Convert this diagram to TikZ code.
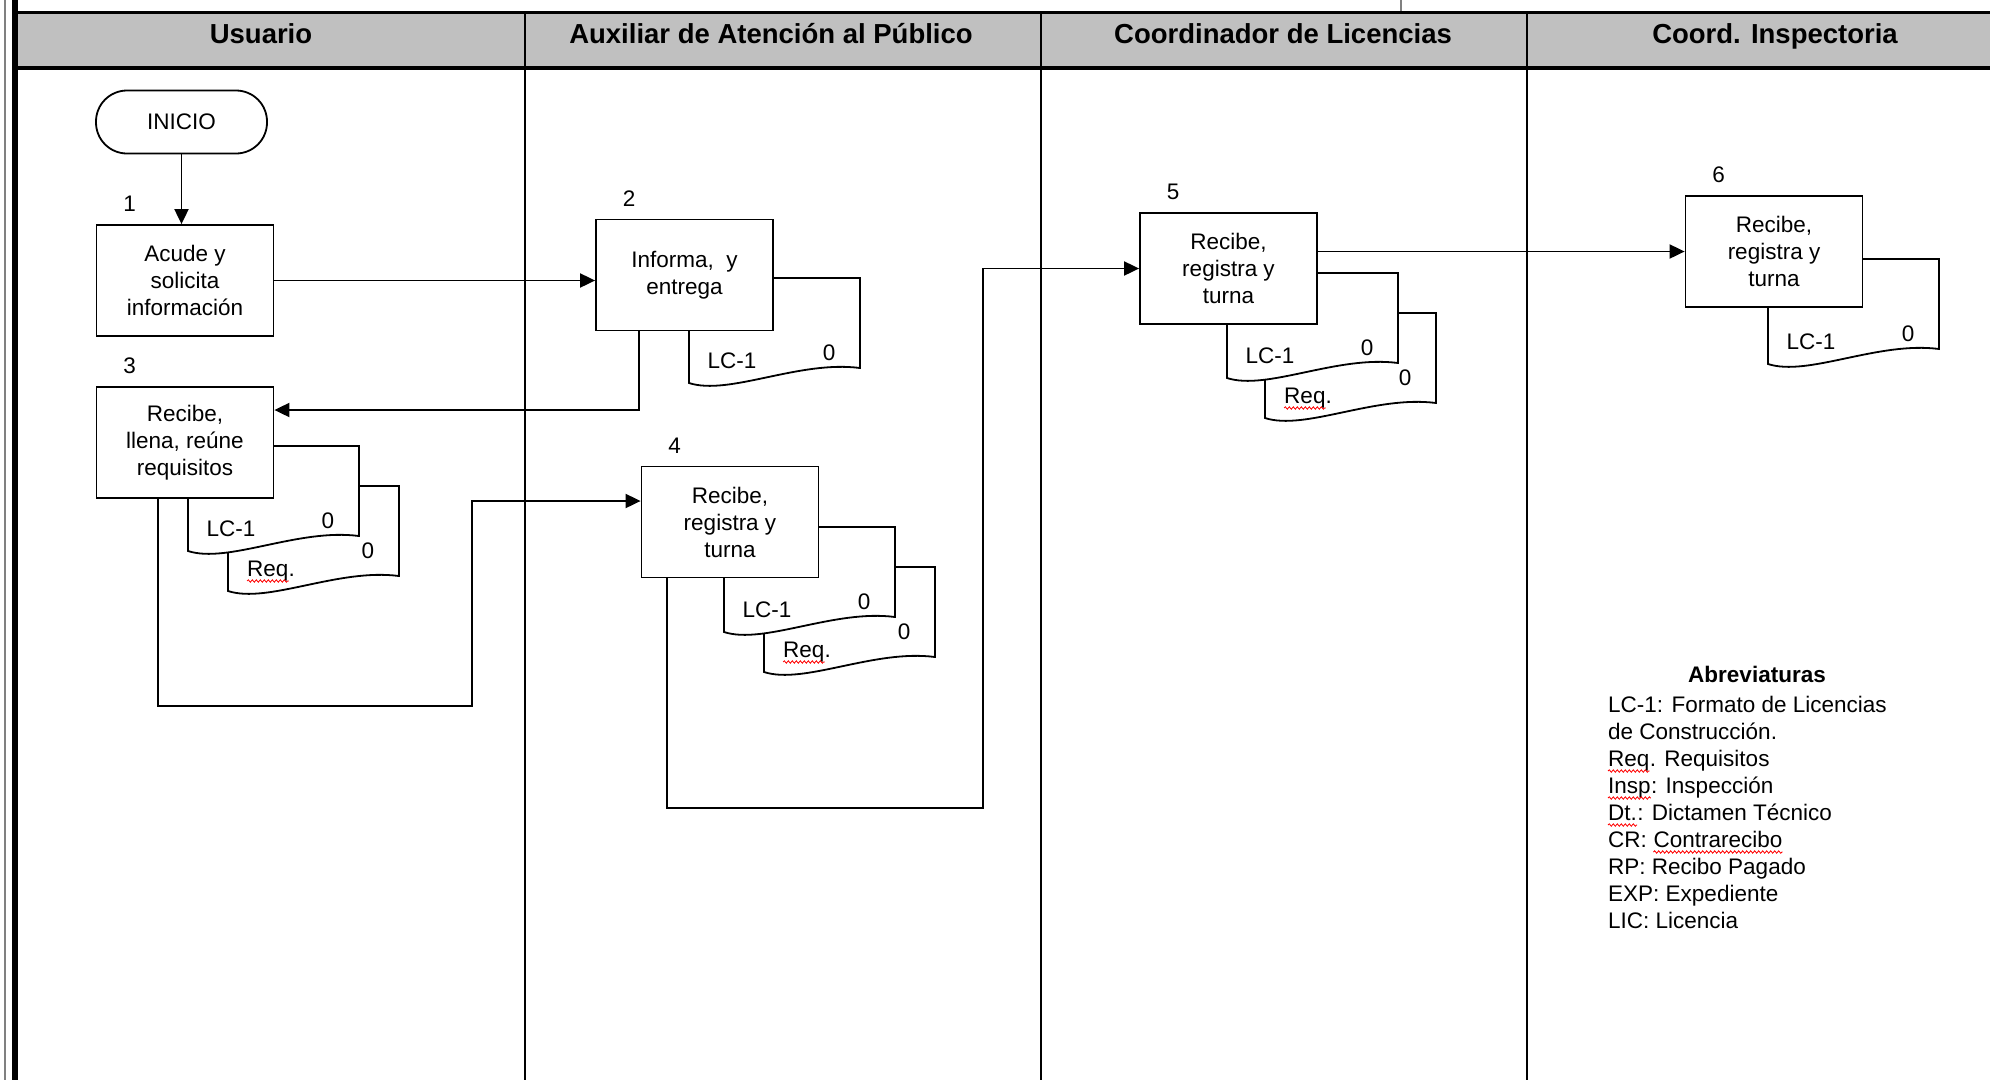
\documentclass[tikz,border=0pt]{standalone}
\usepackage{fontspec}
\setmainfont{Liberation Sans}
\usetikzlibrary{arrows.meta,positioning,decorations.pathmorphing}
\definecolor{cabecera}{HTML}{C0C0C0}
% documento: nombre, x, y, texto, altura del cero
\newcommand{\docu}[5]{%
  \begin{scope}[shift={(#2,#3)}]
    \draw[docline] (0,0) -- (171,0) -- (171,90) .. controls (110,82) and (40,118) .. (0,105) -- cycle;
    \node[lbl,anchor=base] (#1-txt) at (43,90) {#4};
    \node[lbl,anchor=base] (#1-cero) at (140,#5) {0};
  \end{scope}}
\begin{document}
\begin{tikzpicture}[x=1pt,y=-1pt,
	every node/.style={font=\fontsize{22.5}{27}\selectfont},
	caja/.style={draw,line width=1.8pt,fill=white,minimum width=177pt,minimum height=111pt,align=center,inner sep=0pt},
	inicio/.style={draw,line width=1.8pt,fill=white,rounded corners=31pt,minimum width=171pt,minimum height=63pt},
	docline/.style={line width=1.8pt,fill=white},
	lbl/.style={inner sep=0pt},
	num/.style={inner sep=0pt},
	abr/.style={inner sep=0pt,anchor=base west},
	flujo/.style={line width=1.9pt,-{Triangle[length=15pt,width=14pt]}},
	carril/.style={line width=2.4pt},
	ortog/.style={red,line width=0.8pt,decorate,decoration={snake,amplitude=1.2pt,segment length=4pt}},
	hdr/.style={font=\fontsize{27.5}{33}\selectfont\bfseries,inner sep=0pt}]
\useasboundingbox (0,0) rectangle (1990,1080);
% carriles
\fill[cabecera] (15,12) rectangle (1990,68);
\draw[line width=3pt] (15,12) -- (1990,12);
\draw[line width=3.5pt] (15,68) -- (1990,68);
\draw[gray,line width=1.5pt] (1401,0) -- (1401,11);
\draw[gray,line width=1.5pt] (5,0) -- (5,1080);
\draw[line width=6pt] (15,0) -- (15,1080);
\foreach \x in {525,1041,1527}
	\draw[carril] (\x,12) -- (\x,1080);
\node[hdr,anchor=base] (h1) at (261,43) {Usuario};
\node[hdr,anchor=base] (h2) at (771,43) {Auxiliar de Atención al Público};
\node[hdr,anchor=base] (h3) at (1283,43) {Coordinador de Licencias};
\node[hdr,anchor=base] (h4) at (1775,43) {Coord. Inspectoria};
% documentos
\docu{d2}{689}{278}{LC-1}{82}
\docu{d3r}{228}{486}{Req.}{72}
\docu{d3}{188}{446}{LC-1}{82}
\docu{d4r}{764}{567}{Req.}{72}
\docu{d4}{724}{527}{LC-1}{82}
\docu{d5r}{1265}{313}{Req.}{72}
\docu{d5}{1227}{273}{LC-1}{82}
\docu{d6}{1768}{259}{LC-1}{82}
\foreach \d in {d3r,d4r,d5r}
	\draw[ortog] ([yshift=-5pt]\d-txt.base west) -- ([xshift=-6pt,yshift=-5pt]\d-txt.base east);
% pasos
\node[inicio] (ini) at (181.5,122) {INICIO};
\node[caja] (b1) at (185,280.5) {Acude y\\solicita\\información};
\node[caja] (b2) at (684.5,275) {Informa,~ y\\entrega};
\node[caja] (b3) at (185,442.5) {Recibe,\\llena, reúne\\requisitos};
\node[caja] (b4) at (730,522) {Recibe,\\registra y\\turna};
\node[caja] (b5) at (1228.5,268.5) {Recibe,\\registra y\\turna};
\node[caja] (b6) at (1774,251.5) {Recibe,\\registra y\\turna};
\node[num] (n1) at ([shift={(34,-20)}]b1.north west) {1};
\node[num] (n2) at ([shift={(34,-20)}]b2.north west) {2};
\node[num] (n3) at ([shift={(34,-20)}]b3.north west) {3};
\node[num] (n4) at ([shift={(34,-20)}]b4.north west) {4};
\node[num] (n5) at ([shift={(34,-20)}]b5.north west) {5};
\node[num] (n6) at ([shift={(34,-20)}]b6.north west) {6};
% flechas
\coordinate (c23) at (639,410);
\coordinate (c34a) at (158,706);
\coordinate (c34b) at (472,501);
\coordinate (c45a) at (667,808);
\coordinate (c45b) at (983,268.5);
\draw[flujo] (ini.south) -- (ini.south |- b1.north);
\draw[flujo] (b1.east) -- (b1.east -| b2.west);
\draw[flujo] (b2.south -| c23) |- (b3.east |- c23);
\draw[flujo] (b3.south -| c34a) -- (c34a) -| (c34b) -- (b4.west |- c34b);
\draw[flujo] (b4.south -| c45a) -- (c45a) -| (c45b) -- (b5.west);
\draw[flujo] (b5.east |- b6.west) -- (b6.west);
% abreviaturas
\node[font=\fontsize{22.5}{27}\selectfont\bfseries,anchor=base,inner sep=0pt] (abrev) at (1757,682) {Abreviaturas};
\node[abr] (l1) at (1608,712) {LC-1: Formato de Licencias};
\node[abr] (l2) at (1608,739) {de Construcción.};
\node[abr] (l3a) at (1608,766) {Req};
\node[abr] (l3) at (l3a.base east) {. Requisitos};
\node[abr] (l4a) at (1608,793) {Insp};
\node[abr] (l4) at (l4a.base east) {: Inspección};
\node[abr] (l5a) at (1608,820) {Dt.};
\node[abr] (l5) at (l5a.base east) {: Dictamen Técnico};
\node[abr] (l6a) at (1608,847) {CR:};
\node[abr] (l6) at ([xshift=6.3pt]l6a.base east) {Contrarecibo};
\node[abr] (l7) at (1608,874) {RP: Recibo Pagado};
\node[abr] (l8) at (1608,901) {EXP: Expediente};
\node[abr] (l9) at (1608,928) {LIC: Licencia};
\foreach \w in {l3a,l4a,l5a,l6}
	\draw[ortog] ([yshift=-5pt]\w.base west) -- ([yshift=-5pt]\w.base east);
\end{tikzpicture}
\end{document}
